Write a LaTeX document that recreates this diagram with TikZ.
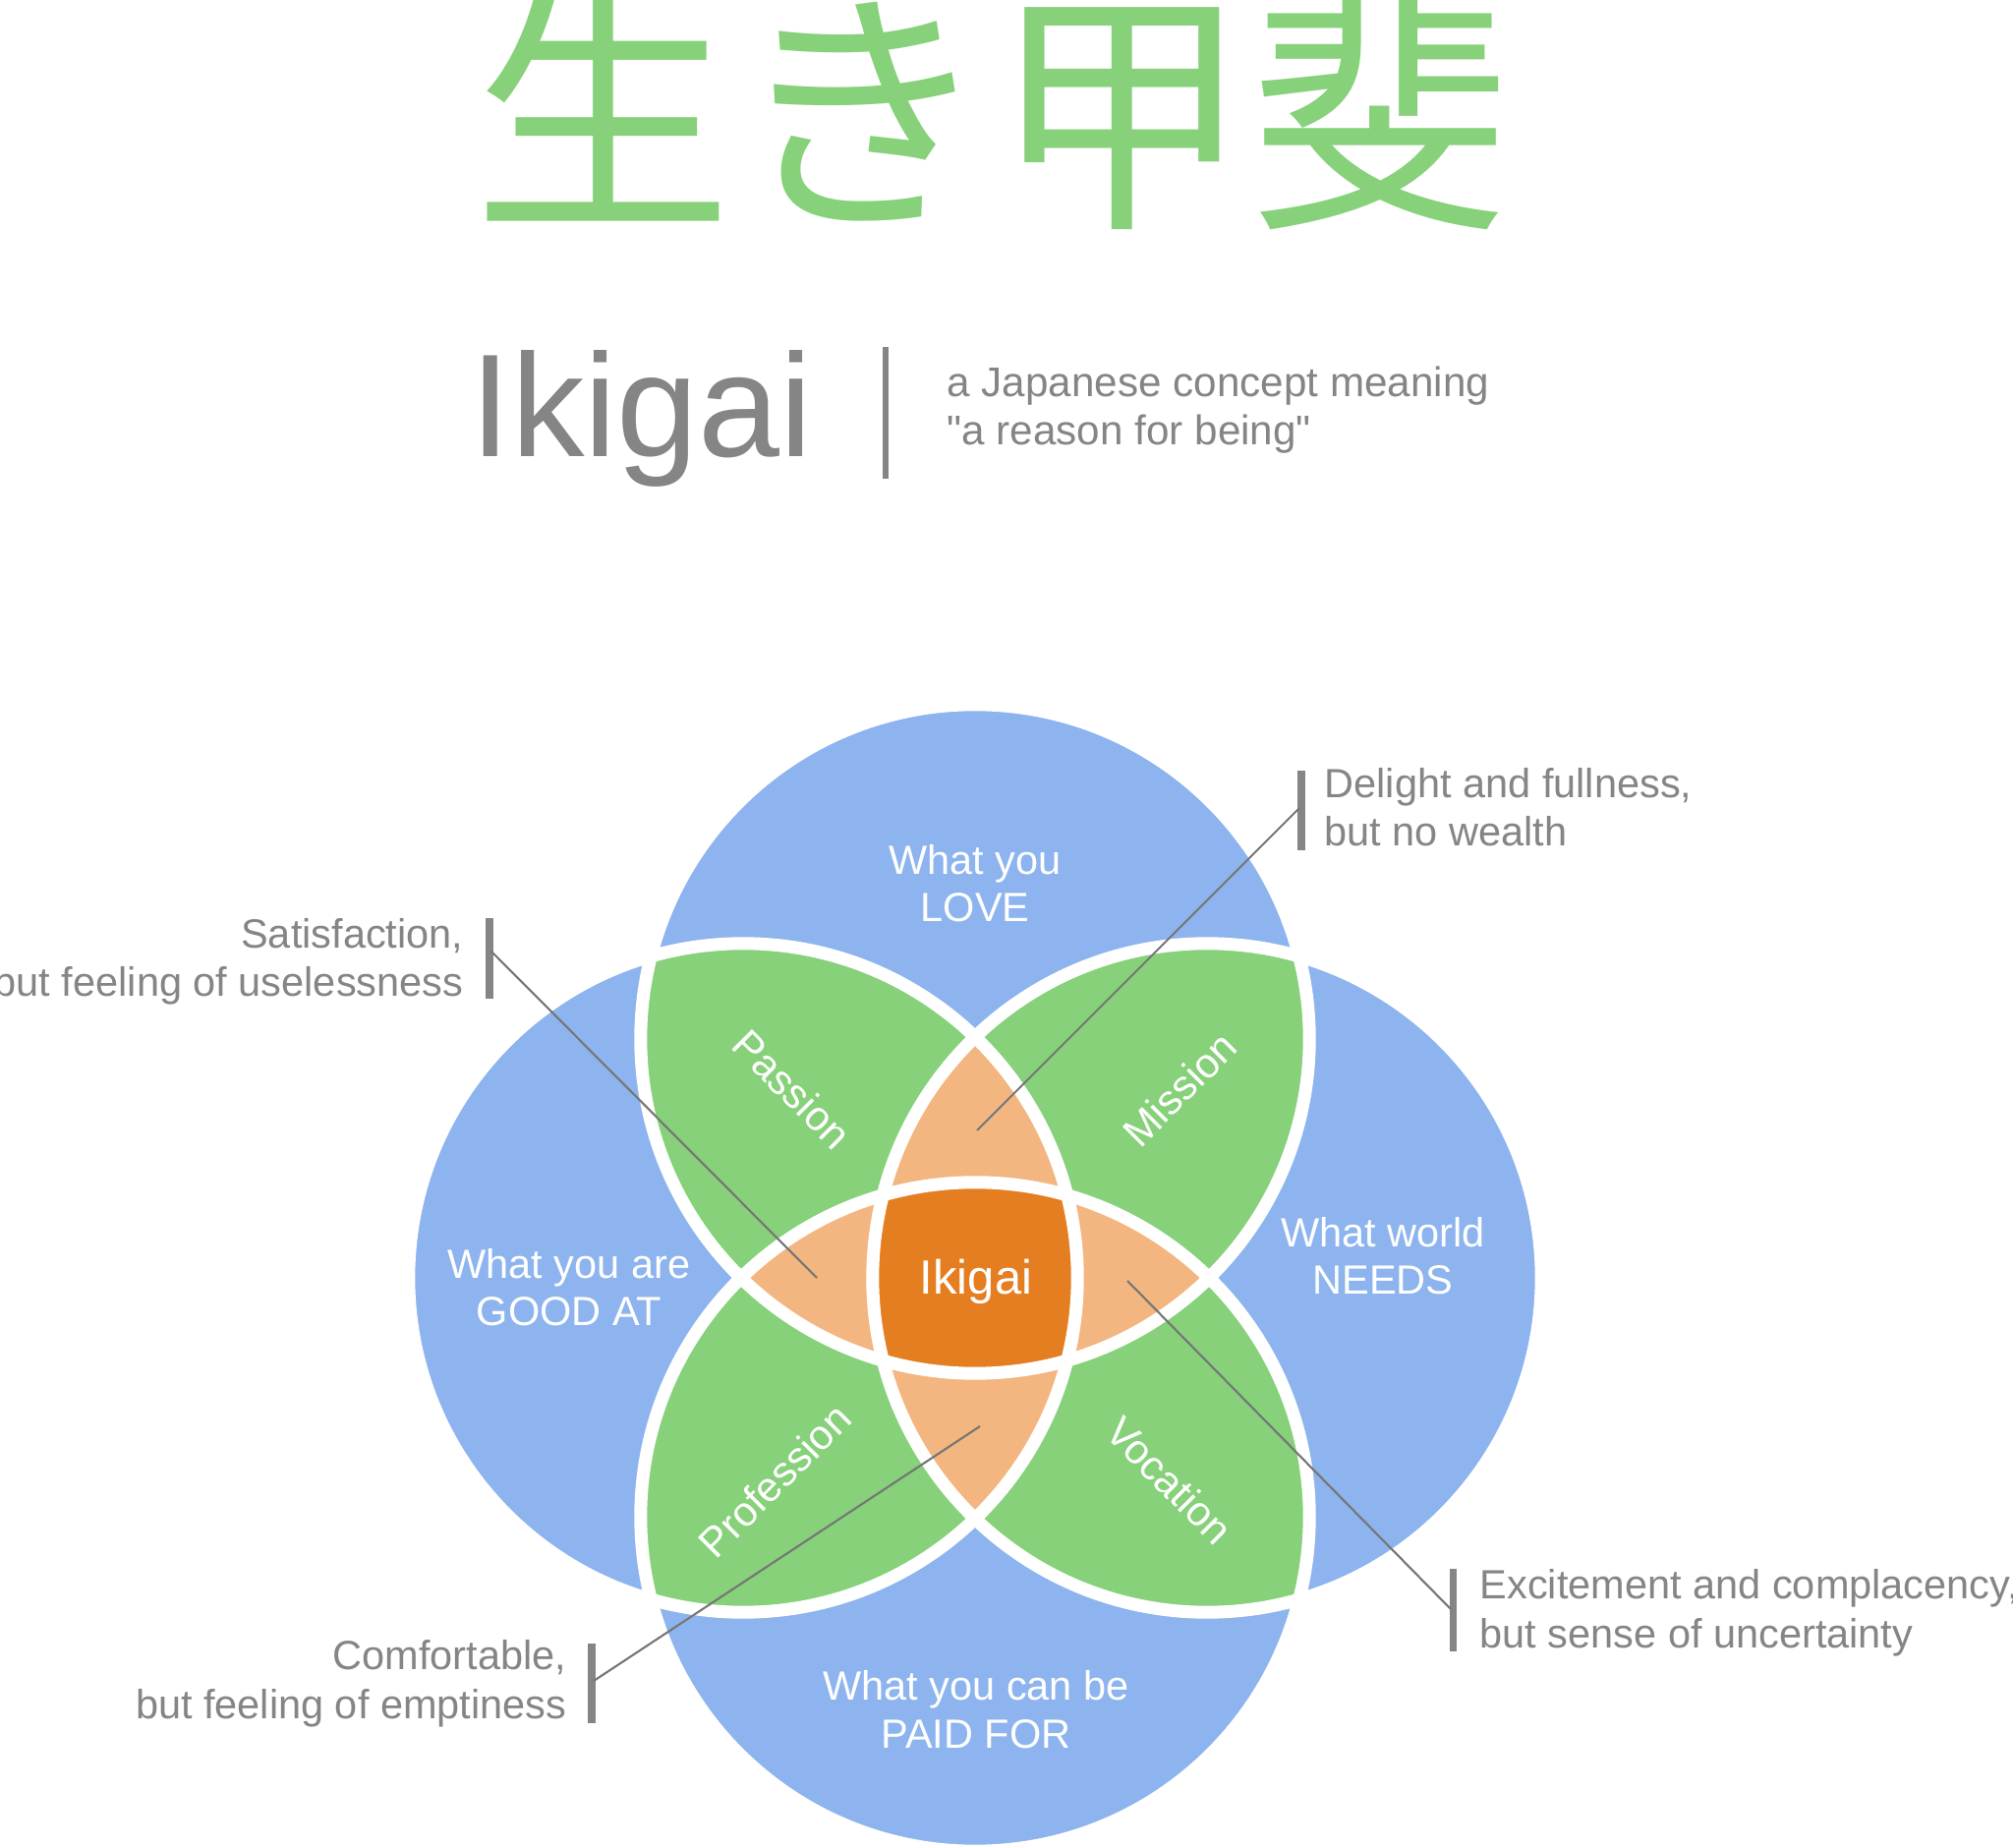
\documentclass[tikz,border=0pt]{standalone}
\usepackage{fontspec}
\newfontfamily\lsans{Liberation Sans}
\newfontfamily\jpfont{Noto Sans CJK JP}
\definecolor{bluec}{RGB}{141,180,238}
\definecolor{greenc}{RGB}{134,209,122}
\definecolor{lorange}{RGB}{243,182,128}
\definecolor{dorange}{RGB}{229,125,33}
\definecolor{textgray}{RGB}{133,133,133}
\definecolor{leadgray}{RGB}{118,118,118}
\begin{document}
\begin{tikzpicture}[x=0.01cm,y=-0.01cm,
  lbl/.style={text=white, font=\lsans\fontsize{11.8}{13.8}\selectfont, align=center, inner sep=0pt, anchor=base},
  rlbl/.style={text=white, font=\lsans\fontsize{12}{14}\selectfont, inner sep=0pt},
  callout/.style={text=textgray, font=\lsans\fontsize{11.8}{14.1}\selectfont, inner sep=0pt},
  barline/.style={draw=textgray, line width=2pt},
  leader/.style={draw=leadgray, line width=0.6pt},
  ring/.style={draw=white, line width=3.7pt},
  blob/.style={radius=3.4cm},
]
\useasboundingbox (0,0) rectangle (2048,1880);
\fill[white] (0,0) rectangle (2048,1880);

% title
\node[inner sep=0pt, text=greenc, font=\jpfont\fontsize{75}{75}\selectfont] (jp) at (1009,112) {生き甲斐};
\node[inner sep=0pt, anchor=base west, text=textgray, font=\lsans\fontsize{42.4}{42.4}\selectfont] (ikigaititle) at (478,465) {Ikigai};
\coordinate (tbtop) at (901,353);
\coordinate (tbbot) at (901,487);
\draw[textgray, line width=1.6pt] (tbtop) -- (tbbot);
\node[inner sep=0pt, anchor=base west, align=left, text=textgray, font=\lsans\fontsize{12}{14.2}\selectfont] (subtitle) at (963,453) {a Japanese concept meaning\\"a reason for being"};

% circles
\coordinate (cT) at (992,1057);
\coordinate (cB) at (992,1543);
\coordinate (cL) at (756,1300);
\coordinate (cR) at (1228,1300);
\foreach \c in {cT,cB,cL,cR} {\fill[bluec] (\c) circle[blob];}
\begin{scope}
  \clip (cT) circle[blob];
  \fill[greenc] (cL) circle[blob];
  \fill[greenc] (cR) circle[blob];
\end{scope}
\begin{scope}
  \clip (cB) circle[blob];
  \fill[greenc] (cL) circle[blob];
  \fill[greenc] (cR) circle[blob];
\end{scope}
\begin{scope}
  \clip (cT) circle[blob];
  \fill[lorange] (cB) circle[blob];
\end{scope}
\begin{scope}
  \clip (cL) circle[blob];
  \fill[lorange] (cR) circle[blob];
\end{scope}
\begin{scope}
  \clip (cT) circle[blob];
  \clip (cB) circle[blob];
  \clip (cL) circle[blob];
  \fill[dorange] (cR) circle[blob];
\end{scope}
\foreach \c in {cT,cB,cL,cR} {\draw[ring] (\c) circle[blob];}

% circle labels (base = last line)
\node[lbl] (love) at (992,938) {What you\\LOVE};
\node[lbl] (good) at (579,1349) {What you are\\GOOD AT};
\node[lbl] (needs) at (1407,1317) {What world\\NEEDS};
\node[lbl] (paid) at (993,1778) {What you can be\\PAID FOR};
\node[text=white, inner sep=0pt, anchor=base, font=\lsans\fontsize{13.9}{14}\selectfont] (ikigai) at (993,1317) {Ikigai};
\node[rlbl, rotate=-45] (passion) at (806,1108) {Passion};
\node[rlbl, rotate=45] (mission) at (1200,1108) {Mission};
\node[rlbl, rotate=45] (profession) at (788,1506) {Profession};
\node[rlbl, rotate=-45] (vocation) at (1190,1506) {Vocation};

% callouts
\node[callout, anchor=base east, align=right] (sat) at (472,1014) {Satisfaction,\\but feeling of uselessness};
\node[callout, anchor=base west, align=left] (del) at (1347,861) {Delight and fullness,\\but no wealth};
\node[callout, anchor=base east, align=right] (com) at (577,1748) {Comfortable,\\but feeling of emptiness};
\node[callout, anchor=base west, align=left] (exc) at (1505,1676) {Excitement and complacency,\\but sense of uncertainty};

\coordinate (satA) at (498,934); \coordinate (satB) at (498,1016);
\coordinate (delA) at (1324,784); \coordinate (delB) at (1324,865);
\coordinate (comA) at (602,1672); \coordinate (comB) at (602,1753);
\coordinate (excA) at (1478,1596); \coordinate (excB) at (1478,1680);
\foreach \a/\b in {satA/satB,delA/delB,comA/comB,excA/excB} {\draw[barline] (\a) -- (\b);}

\coordinate (satS) at (500,968);  \coordinate (satE) at (831,1300);
\coordinate (delS) at (1322,822); \coordinate (delE) at (994,1150);
\coordinate (comS) at (604,1710); \coordinate (comE) at (997,1451);
\coordinate (excS) at (1476,1637); \coordinate (excE) at (1147,1303);
\draw[leader] (satS) -- (satE);
\draw[leader] (delS) -- (delE);
\draw[leader] (comS) -- (comE);
\draw[leader] (excS) -- (excE);
\end{tikzpicture}
\end{document}
